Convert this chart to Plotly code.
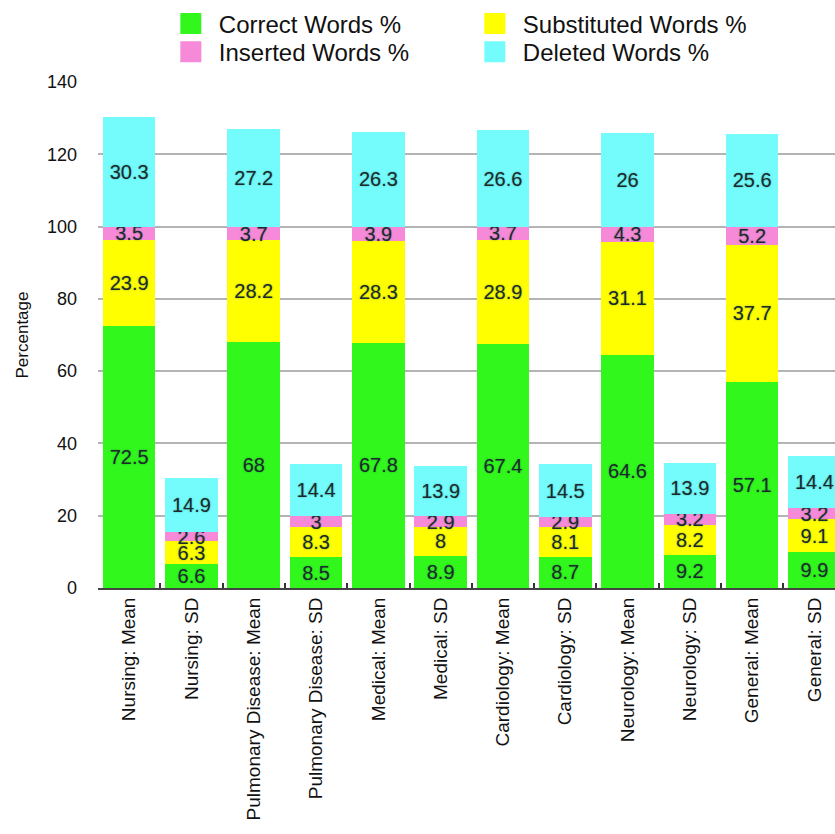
import plotly.graph_objects as go

# Categories (specialty: statistic)
categories = [
    "Nursing: Mean", "Nursing: SD",
    "Pulmonary Disease: Mean", "Pulmonary Disease: SD",
    "Medical: Mean", "Medical: SD",
    "Cardiology: Mean", "Cardiology: SD",
    "Neurology: Mean", "Neurology: SD",
    "General: Mean", "General: SD",
]

# Word-level recognition results (%)
correct_words = [72.5, 6.6, 68, 8.5, 67.8, 8.9, 67.4, 8.7, 64.6, 9.2, 57.1, 9.9]
substituted_words = [23.9, 6.3, 28.2, 8.3, 28.3, 8, 28.9, 8.1, 31.1, 8.2, 37.7, 9.1]
inserted_words = [3.5, 2.6, 3.7, 3, 3.9, 2.9, 3.7, 2.9, 4.3, 3.2, 5.2, 3.2]
deleted_words = [30.3, 14.9, 27.2, 14.4, 26.3, 13.9, 26.6, 14.5, 26, 13.9, 25.6, 14.4]

series = [
    ("Correct Words %", correct_words, "#32F71C", "legend"),
    ("Substituted Words %", substituted_words, "#FFFF00", "legend"),
    ("Inserted Words %", inserted_words, "#F78AD8", "legend2"),
    ("Deleted Words %", deleted_words, "#74FCFC", "legend2"),
]

FONT = "Liberation Sans, Arial, Helvetica, sans-serif"

fig = go.Figure()

for name, values, color, _ in series:
    fig.add_trace(go.Bar(
        x=categories, y=values, name=name,
        marker=dict(color=color, line=dict(width=0)),
        texttemplate="%{y}",
        textposition="inside",
        insidetextanchor="middle",
        textangle=0,
        constraintext="none",
        textfont=dict(family=FONT, size=20, color="#1b2a2a",
                      shadow="0px 0px 2px rgba(0,70,70,0.45)"),
        showlegend=False,
    ))

# Legend swatches (larger squares than the default bar symbol)
for name, _, color, lg in series:
    fig.add_trace(go.Scatter(
        x=[None], y=[None], mode="markers", name=name, legend=lg,
        marker=dict(symbol="square", size=16, color=color,
                    line=dict(color=color, width=5)),
        showlegend=True,
    ))

legend_common = dict(
    orientation="h", xref="container", yref="container",
    xanchor="left", yanchor="middle", traceorder="normal",
    font=dict(family=FONT, size=24, color="#111111"),
    itemsizing="trace", itemwidth=46,
    entrywidth=243, entrywidthmode="pixels",
    bgcolor="rgba(0,0,0,0)", borderwidth=0,
)

fig.update_layout(
    width=835, height=834,
    barmode="stack", bargap=0.155,
    plot_bgcolor="white", paper_bgcolor="white",
    margin=dict(l=98, r=0, t=82, b=246, autoexpand=False),
    font=dict(family=FONT, color="#111111"),
    uniformtext=dict(minsize=20, mode="show"),
    legend=dict(x=0.195, y=0.9712, **legend_common),
    legend2=dict(x=0.195, y=0.9376, **legend_common),
    xaxis=dict(
        type="category", range=[-0.5, 11.33],
        tickangle=-90, tickfont=dict(family=FONT, size=19, color="#111111"),
        ticks="inside", tickson="boundaries", ticklen=5, tickwidth=1.5,
        tickcolor="#333333",
        showline=True, linecolor="#444444", linewidth=2,
        showgrid=False, automargin=False,
    ),
    yaxis=dict(
        range=[0, 140], dtick=20, tick0=0,
        showgrid=True, gridcolor="#b4b4b4", gridwidth=1.5,
        zeroline=False, showline=False, ticks="",
        tickfont=dict(family=FONT, size=18, color="#111111"),
        ticklabelstandoff=20,
        title=dict(text="Percentage", font=dict(family=FONT, size=17, color="#111111"),
                   standoff=14),
        automargin=False,
    ),
)

fig.write_html("out.html")
